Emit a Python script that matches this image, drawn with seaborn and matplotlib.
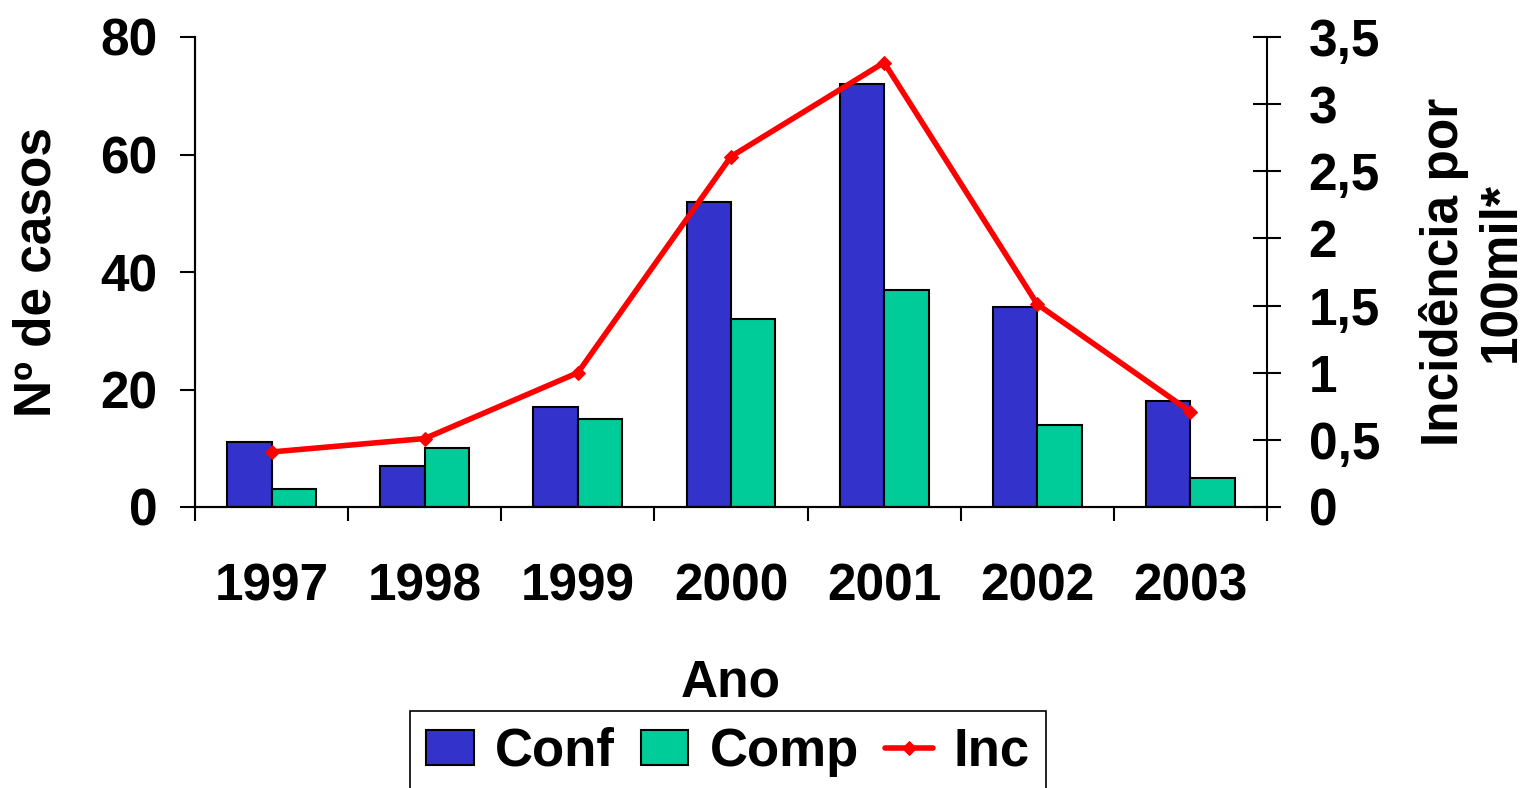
import numpy as np
import pandas as pd
import matplotlib
matplotlib.use('Agg')
import matplotlib.pyplot as plt
import seaborn as sns
from matplotlib.ticker import FixedLocator, FuncFormatter

# data
anos = ['1997', '1998', '1999', '2000', '2001', '2002', '2003']
conf = [11, 7, 17, 52, 72, 34, 18]
comp = [3, 10, 15, 32, 37, 14, 5]
inc = [0.41, 0.51, 1.0, 2.61, 3.31, 1.51, 0.71]

sns.set_theme(style='white')
plt.rcParams['font.family'] = ['Liberation Sans', 'DejaVu Sans']
plt.rcParams['font.weight'] = 'bold'
plt.rcParams['axes.labelweight'] = 'bold'
for k in ('text.color', 'axes.labelcolor', 'xtick.color', 'ytick.color'):
    plt.rcParams[k] = 'black'

df = pd.DataFrame({
    'Ano': anos * 2,
    'casos': conf + comp,
    'tipo': ['Conf'] * len(anos) + ['Comp'] * len(anos),
})

fig = plt.figure(figsize=(15.3, 7.88), dpi=100)
ax = fig.add_axes([195 / 1530, 1 - 507 / 788, (1267 - 195) / 1530, (507 - 37) / 788])

sns.barplot(data=df, x='Ano', y='casos', hue='tipo', ax=ax,
            palette={'Conf': '#3333CC', 'Comp': '#00CC99'},
            width=0.58, edgecolor='black', linewidth=1.5, saturation=1)
h1, l1 = ax.get_legend_handles_labels()
ax.get_legend().remove()

ax2 = ax.twinx()
sns.lineplot(x=np.arange(len(anos)), y=inc, ax=ax2, color='#FF0000',
             linewidth=4, marker='D', markersize=7, markeredgecolor='#FF0000',
             label='Inc')
h2, l2 = ax2.get_legend_handles_labels()
ax2.get_legend().remove()

ax.set_xlim(-0.5, len(anos) - 0.5)
ax.set_ylim(0, 80)
ax2.set_ylim(0, 3.5)
ax.set_yticks([0, 20, 40, 60, 80])
ax2.set_yticks(np.arange(0, 3.51, 0.5))
ax2.yaxis.set_major_formatter(FuncFormatter(lambda v, p: f'{v:g}'.replace('.', ',')))

# year labels at centres, tick marks at boundaries
ax.set_xticks(range(len(anos)))
ax.set_xticklabels(anos)
ax.xaxis.set_minor_locator(FixedLocator(np.arange(-0.5, len(anos), 1)))
ax.tick_params(axis='x', which='major', length=0, pad=40, labelsize=37)
ax.tick_params(axis='x', which='minor', length=10, width=1.5, direction='out',
               color='black', bottom=True)
ax.tick_params(axis='y', length=11, width=1.5, direction='out', color='black',
               left=True, pad=16, labelsize=37)
ax2.tick_params(axis='y', length=20, width=1.5, direction='inout', color='black',
                right=True, pad=20, labelsize=37)

for a in (ax, ax2):
    a.spines['top'].set_visible(False)
    for s in ('left', 'right', 'bottom'):
        a.spines[s].set_color('black')
        a.spines[s].set_linewidth(1.5)
ax.spines['right'].set_visible(False)

ax.set_xlabel('Ano', fontsize=37, fontweight='bold', labelpad=34)
ax.set_ylabel('Nº de casos', fontsize=37, fontweight='bold', labelpad=28)
ax2.set_ylabel('Incidência por\n100mil*', fontsize=37, fontweight='bold',
               labelpad=28, rotation=90, linespacing=1.2)

leg = fig.legend(h1 + h2, l1 + l2, loc='center', ncol=3,
                 bbox_to_anchor=(728 / 1530, 1 - 752 / 788),
                 prop={'size': 38, 'weight': 'bold'}, frameon=True,
                 fancybox=False, edgecolor='black', framealpha=1,
                 handlelength=0.9, handleheight=0.65, handletextpad=0.4,
                 columnspacing=0.5, borderpad=0.3)
leg.get_frame().set_linewidth(1.2)

fig.savefig('out.png', dpi=100)
